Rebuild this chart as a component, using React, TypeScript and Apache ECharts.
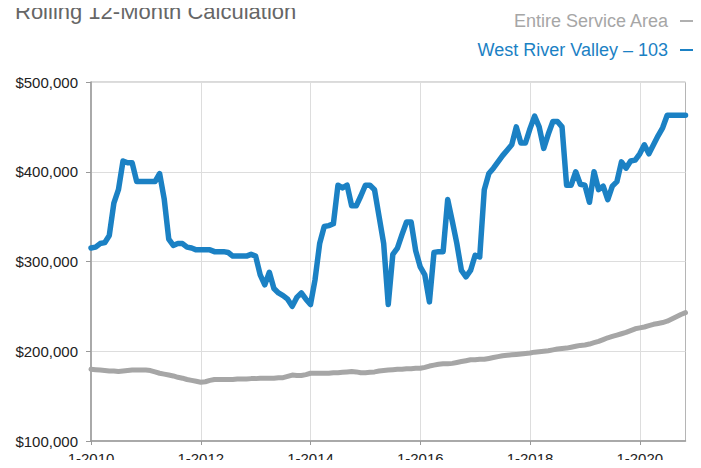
import React, { useEffect, useRef } from "react";
import * as echarts from "echarts";

const TITLE = "Rolling 12-Month Calculation";
const SERIES_NAMES = ["Entire Service Area", "West River Valley – 103"];
const SERIES_COLORS = ["#a6a6a6", "#1b81c4"];

const START_YEAR = 2010;
const MONTH_COUNT = 131; // Jan 2010 .. Nov 2020
const categories: string[] = Array.from({ length: MONTH_COUNT }, (_, i) => `${(i % 12) + 1}-${START_YEAR + Math.floor(i / 12)}`);

const Y_TICKS = [100000, 200000, 300000, 400000, 500000];

// Entire Service Area (thousands of $), monthly
const serviceArea: number[] = [
  180, 179.5, 179, 178.5, 178, 178, 177.5, 178, 178.5, 179, 179, 179,
  179, 178.5, 177, 175.5, 174.5, 173.5, 172.5, 171, 170, 168.5, 167.5, 166.5,
  165.5, 166, 167.5, 168.5, 168.5, 168.5, 168.5, 168.5, 169, 169, 169, 169.5,
  169.5, 170, 170, 170, 170, 170.5, 170.5, 172, 173.5, 173, 173, 174,
  175.5, 175.5, 175.5, 175.5, 175.5, 176, 176, 176.5, 177, 177.5, 177, 176,
  176, 176.5, 177, 178, 178.5, 179, 179.5, 180, 180, 180.5, 180.5, 181,
  181, 182, 183.5, 184.5, 185.5, 186, 186, 186.5, 187.5, 188.5, 189.5, 190.5,
  190.5, 191, 191, 192, 193, 194, 195, 195.5, 196, 196.5, 197, 197.5,
  198, 199, 199.5, 200, 200.5, 201.5, 202.5, 203, 203.5, 204.5, 205.5, 206.5,
  207, 208, 209.5, 211, 213, 215, 216.5, 218, 219.5, 221, 223, 225,
  226, 227, 228.5, 230, 231, 232, 233.5, 236, 238.5, 241, 243,
];

// West River Valley – 103 (thousands of $), monthly
const westRiver: number[] = [
  315, 316, 320, 321, 329, 365, 380, 412, 410, 410, 389, 389,
  389, 389, 389, 398, 370, 325, 318, 320, 320, 316, 315, 313,
  313, 313, 313, 311, 311, 311, 310, 306, 306, 306, 306, 308,
  306, 285, 274, 288, 270, 265, 262, 258, 250, 260, 265, 258,
  252, 280, 320, 339, 340, 342, 385, 382, 385, 362, 362, 373,
  385, 385, 380, 350, 320, 252, 308, 315, 330, 344, 344, 312,
  294, 285, 255, 310, 311, 311, 369, 345, 320, 290, 283, 290,
  307, 305, 380, 398, 404, 411, 418, 424, 430, 450, 432, 432,
  448, 462, 450, 426, 442, 456, 456, 450, 385, 385, 400, 386,
  385, 366, 400, 380, 384, 369, 384, 389, 411, 404, 412, 413,
  420, 430, 420, 430, 440, 449, 463, 463, 463, 463, 463,
];

const FONT = "'Liberation Sans', Arial, Helvetica, sans-serif";

export default function App() {
  const ref = useRef<HTMLDivElement>(null);
  useEffect(() => {
    if (!ref.current) return;
    const chart = echarts.init(ref.current, null, { renderer: "svg" });
    const every24 = (index: number) => index % 24 === 0;
    chart.setOption({
      animation: false,
      backgroundColor: "#ffffff",
      textStyle: { fontFamily: FONT },
      graphic: [
        {
          type: "text",
          left: 15,
          top: 0,
          style: { text: TITLE, font: `22px ${FONT}`, fill: "#666666" },
        },
      ],
      legend: {
        orient: "vertical",
        right: 1,
        top: 12,
        padding: 0,
        align: "right",
        itemGap: 11,
        itemWidth: 20,
        itemHeight: 2,
        icon: "rect",
        selectedMode: false,
        textStyle: { fontSize: 18, fontFamily: FONT, padding: [0, 7, 0, 0] },
        data: [
          { name: SERIES_NAMES[0], textStyle: { color: SERIES_COLORS[0] }, itemStyle: { color: "#b0b0b0" } },
          { name: SERIES_NAMES[1], textStyle: { color: SERIES_COLORS[1] }, itemStyle: { color: SERIES_COLORS[1] } },
        ],
      },
      grid: {
        left: 91,
        right: 15.5,
        top: 82,
        bottom: 27,
        show: true,
        borderColor: "#b5b5b5",
        borderWidth: 1,
      },
      xAxis: {
        type: "category",
        data: categories,
        boundaryGap: false,
        axisLine: { lineStyle: { color: "#999999", width: 1.5 } },
        axisTick: { show: true, interval: every24, length: 4, lineStyle: { color: "#999999" } },
        axisLabel: { interval: every24, color: "#222222", fontSize: 15, margin: 10, fontFamily: FONT },
        splitLine: { show: true, interval: every24, lineStyle: { color: "#dddddd", width: 1 } },
      },
      yAxis: {
        type: "value",
        min: Y_TICKS[0],
        max: Y_TICKS[Y_TICKS.length - 1],
        interval: 100000,
        axisLine: { show: true, lineStyle: { color: "#999999", width: 1.5 } },
        axisTick: { show: true, length: 5, lineStyle: { color: "#999999" } },
        axisLabel: {
          color: "#222222",
          fontSize: 15,
          margin: 13,
          fontFamily: FONT,
          formatter: (v: number) => "$" + v.toLocaleString("en-US"),
        },
        splitLine: { show: true, lineStyle: { color: "#dddddd", width: 1 } },
      },
      series: [
        {
          name: SERIES_NAMES[0],
          type: "line",
          data: serviceArea.map((v) => v * 1000),
          showSymbol: false,
          symbol: "none",
          lineStyle: { color: SERIES_COLORS[0], width: 5, join: "round", cap: "round" },
          itemStyle: { color: SERIES_COLORS[0] },
          z: 2,
        },
        {
          name: SERIES_NAMES[1],
          type: "line",
          data: westRiver.map((v) => v * 1000),
          showSymbol: false,
          symbol: "none",
          lineStyle: { color: SERIES_COLORS[1], width: 5.5, join: "round", cap: "round" },
          itemStyle: { color: SERIES_COLORS[1] },
          z: 3,
        },
      ],
    });
    return () => chart.dispose();
  }, []);
  return <div ref={ref} style={{ width: 701, height: 468, margin: -8 }} />;
}
